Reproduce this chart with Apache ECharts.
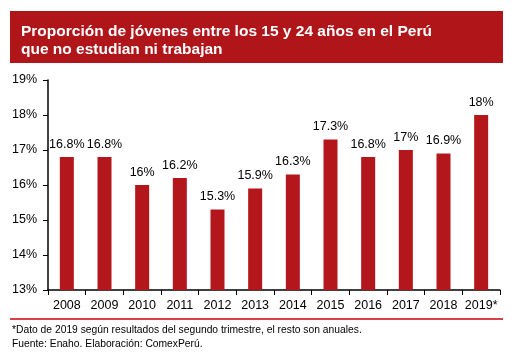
<!DOCTYPE html>
<html>
<head>
<meta charset="utf-8">
<script src="https://cdn.jsdelivr.net/npm/echarts@6/dist/echarts.min.js"></script>
<style>
  html, body { margin: 0; padding: 0; background: #fff; }
  #chart { width: 515px; height: 354px; }
</style>
</head>
<body>
<div id="chart"></div>
<script>
// data
var years = ['2008', '2009', '2010', '2011', '2012', '2013', '2014', '2015', '2016', '2017', '2018', '2019*'];
var shares = [16.8, 16.8, 16, 16.2, 15.3, 15.9, 16.3, 17.3, 16.8, 17, 16.9, 18];
var titleLines = ['Proporción de jóvenes entre los 15 y 24 años en el Perú', 'que no estudian ni trabajan'];
var notes = ['*Dato de 2019 según resultados del segundo trimestre, el resto son anuales.', 'Fuente: Enaho. Elaboración: ComexPerú.'];

var chart = echarts.init(document.getElementById('chart'));
var font = 'Liberation Sans, Arial, sans-serif';

chart.setOption({
  backgroundColor: '#fff',
  animation: false,
  textStyle: { fontFamily: font },
  grid: { left: 48, right: 15, top: 80, bottom: 64 },
  xAxis: {
    type: 'category',
    data: years,
    axisLine: { lineStyle: { color: '#000', width: 1.5 } },
    axisTick: { show: true, length: 5, lineStyle: { color: '#000' } },
    axisLabel: { color: '#000', fontSize: 12.5, margin: 9, interval: 0, fontFamily: font }
  },
  yAxis: {
    type: 'value',
    min: 13,
    max: 19,
    interval: 1,
    axisLine: { show: true, lineStyle: { color: '#000', width: 1.5 } },
    axisTick: { show: true, length: 5, lineStyle: { color: '#000' } },
    splitLine: { show: false },
    axisLabel: { color: '#000', fontSize: 12.5, margin: 11, formatter: '{value}%', fontFamily: font }
  },
  series: [{
    type: 'bar',
    data: shares,
    barWidth: 14,
    itemStyle: { color: '#B3161B' },
    label: {
      show: true,
      position: 'top',
      distance: 6,
      color: '#000',
      fontSize: 12.5,
      fontFamily: font,
      formatter: '{c}%'
    }
  }],
  graphic: [
    { type: 'rect', shape: { x: 10, y: 11, width: 493, height: 52 }, style: { fill: '#B0151A' } },
    { type: 'text', left: 21, top: 23, style: { text: titleLines.join('\n'), fill: '#fff', font: 'bold 15.5px ' + font, lineHeight: 18 } },
    { type: 'rect', shape: { x: 10, y: 318, width: 493, height: 2 }, style: { fill: '#D9404A' } },
    { type: 'text', left: 12, top: 325, style: { text: notes[0], fill: '#000', font: '10.3px ' + font } },
    { type: 'text', left: 12, top: 339, style: { text: notes[1], fill: '#000', font: '10.3px ' + font } }
  ]
});
</script>
</body>
</html>
